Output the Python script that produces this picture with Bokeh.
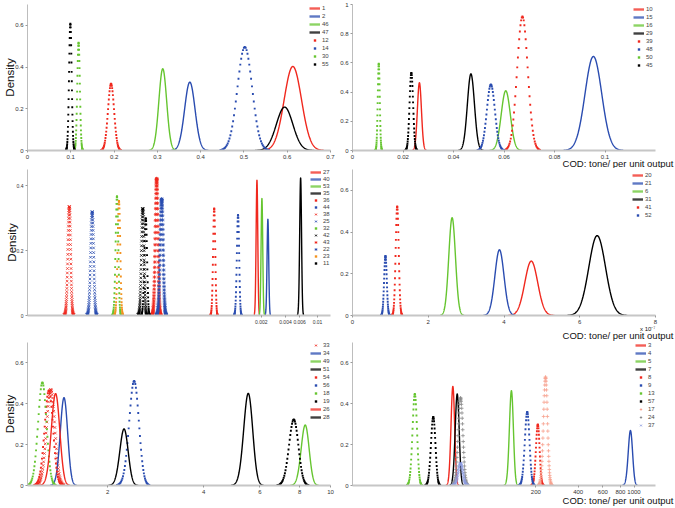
import numpy as np
from bokeh.plotting import figure
from bokeh.layouts import column, row
from bokeh.models import FixedTicker, CustomJSTickFormatter, Range1d, Title
from bokeh.embed import file_html
from bokeh.resources import INLINE

FONT = "Liberation Sans"

# ---------------- data ----------------
# Panel A (top left)
A_names = ["1", "2", "46", "47", "12", "14", "30", "55"]
A_mean = [0.613, 0.375, 0.3125, 0.594, 0.193, 0.502, 0.118, 0.099]
A_sd = [0.020, 0.012, 0.009, 0.019, 0.007, 0.017, 0.003, 0.003]
A_peak = [0.403, 0.328, 0.392, 0.208, 0.32, 0.496, 0.517, 0.608]
A_color = ["red", "blue", "green", "black", "red", "blue", "green", "black"]
A_mark = ["line", "line", "line", "line", "dot", "dot", "dot", "dot"]

# Panel B (top right)
B_names = ["10", "15", "16", "29", "39", "48", "50", "45"]
B_mean = [0.0265, 0.0954, 0.0607, 0.0469, 0.0673, 0.0548, 0.0104, 0.0233]
B_sd = [0.0008, 0.0033, 0.0018, 0.0014, 0.0021, 0.0016, 0.0004, 0.0007]
B_peak = [0.464, 0.644, 0.409, 0.525, 0.918, 0.452, 0.594, 0.532]
B_color = ["red", "blue", "green", "black", "red", "blue", "green", "black"]
B_mark = ["line", "line", "line", "line", "dot", "dot", "dot", "dot"]

# Panel C (middle left, log x)
C_names = ["27", "40", "53", "35", "36", "44", "38", "25", "32", "42", "43", "22", "23", "11"]
C_mean = [1.77e-3, 2.42e-3, 2.04e-3, 6.17e-3, 5.21e-4, 1.03e-3, 8.26e-6, 1.59e-5,
          3.23e-5, 6.76e-5, 1.005e-4, 1.16e-4, 3.42e-5, 7.36e-5]
C_sd = [4.2e-5, 5.7e-5, 4.8e-5, 1.63e-4, 1.63e-5, 3.4e-5, 3.3e-7, 6.8e-7,
        1.22e-6, 2.56e-6, 3.8e-6, 4.9e-6, 1.29e-6, 2.79e-6]
C_peak = [0.417, 0.297, 0.361, 0.424, 0.33, 0.31, 0.336, 0.32,
          0.368, 0.33, 0.422, 0.359, 0.353, 0.30]
C_color = ["red", "blue", "green", "black", "red", "blue", "red", "blue",
           "green", "black", "red", "blue", "orange", "black"]
C_mark = ["line", "line", "line", "line", "dot", "dot", "x", "x",
          "dot", "x", "ast", "ast", "dot", "dot"]

# Panel D (middle right, x 1e-7)
D_names = ["20", "21", "6", "31", "41", "52"]
D_mean = [4.72, 3.88, 2.63, 6.46, 1.18, 0.87]
D_sd = [0.17, 0.12, 0.088, 0.22, 0.04, 0.035]
D_peak = [0.261, 0.315, 0.469, 0.383, 0.523, 0.285]
D_color = ["red", "blue", "green", "black", "red", "blue"]
D_mark = ["line", "line", "line", "line", "dot", "dot"]

# Panel E (bottom left, log x)
E_names = ["33", "34", "49", "51", "54", "56", "18", "19", "26", "28"]
E_mean = [1.325, 1.458, 8.33, 5.52, 1.307, 2.42, 1.247, 7.67, 1.372, 2.25]
E_sd = [0.040, 0.039, 0.24, 0.18, 0.040, 0.085, 0.038, 0.26, 0.042, 0.068]
E_peak = [0.47, 0.43, 0.296, 0.451, 0.465, 0.512, 0.504, 0.323, 0.45, 0.277]
E_color = ["red", "blue", "green", "black", "red", "blue", "green", "black", "red", "black"]
E_mark = ["x", "line", "line", "line", "dot", "dot", "dot", "dot", "line", "line"]

# Panel F (bottom right, log x)
F_names = ["3", "4", "5", "7", "8", "9", "13", "57", "17", "24", "37"]
F_mean = [51.3, 943, 134, 55.1, 206.5, 173.6, 27.5, 37.2, 234.4, 58.2, 58.2]
F_sd = [1.54, 33.5, 4.39, 1.81, 6.2, 6.64, 1.01, 1.36, 7.7, 2.23, 2.23]
F_peak = [0.485, 0.269, 0.464, 0.448, 0.299, 0.36, 0.448, 0.336, 0.531, 0.429, 0.109]
F_color = ["red", "blue", "green", "black", "red", "blue", "green", "black", "pink", "grey", "lblue"]
F_mark = ["line", "line", "line", "line", "dot", "dot", "dot", "dot", "plus", "plus", "x"]

X_LABEL = "COD: tone/ per unit output"
Y_LABEL = "Density"
SCALE_LABEL = "x 10\u207b\u2077"

# ---------------- styles ----------------
COLORS = {"red": "#f0281e", "blue": "#2a4cb0", "green": "#66c530", "black": "#000000",
          "orange": "#f3921f", "pink": "#f7a28f", "grey": "#8a8a8a", "lblue": "#8d9ce0"}
MARKERS = {"dot": "square", "x": "x", "ast": "asterisk", "plus": "cross"}
fmt_code = "return String(Number(tick.toFixed(8)));"
NAN2 = [np.nan, np.nan]


def curve(m, s, pk, n, k):
    xs = np.linspace(m - k * s, m + k * s, n)
    ys = pk * np.exp(-0.5 * ((xs - m) / s) ** 2)
    return xs, ys


def make_fig(w, h, xr, yr, xlog, bl, br, bt, bb, xticks, yticks, tick_fs="6px"):
    p = figure(width=w, height=h, x_range=Range1d(*xr), y_range=Range1d(*yr),
               x_axis_type="log" if xlog else "linear", title=None,
               output_backend="svg", toolbar_location=None,
               min_border_left=bl, min_border_right=br, min_border_top=bt, min_border_bottom=bb)
    p.outline_line_color = None
    p.grid.visible = False
    p.background_fill_color = "white"
    p.xaxis.ticker = FixedTicker(ticks=xticks, minor_ticks=[])
    p.yaxis.ticker = FixedTicker(ticks=yticks, minor_ticks=[])
    for ax in list(p.xaxis) + list(p.yaxis):
        ax.formatter = CustomJSTickFormatter(code=fmt_code)
        ax.major_tick_in = 0
        ax.major_tick_out = 2
        ax.major_tick_line_color = "#9a9a9a"
        ax.minor_tick_line_color = None
        ax.major_label_text_font = FONT
        ax.major_label_text_font_size = tick_fs
        ax.major_label_text_color = "#333333"
        ax.major_label_standoff = 2
    for ax in p.xaxis:
        ax.axis_line_color = "#c6c6c6"
        ax.axis_line_width = 2
    for ax in p.yaxis:
        ax.axis_line_color = "#bdbdbd"
        ax.axis_line_width = 1
    return p


def draw(p, names, means, sds, peaks, colors, marks, nmark=60):
    # legend entries (thicker samples, as in the original legends)
    for nm, c, mk in zip(names, colors, marks):
        col = COLORS[c]
        if mk == "line":
            p.line(NAN2, NAN2, line_color=col, line_width=2.4, line_alpha=0.75, legend_label=nm)
        elif mk == "dot":
            p.scatter(NAN2, NAN2, marker="square", size=2.4, line_color=None, fill_color=col,
                      legend_label=nm)
        else:
            p.scatter(NAN2, NAN2, marker=MARKERS[mk], size=4, line_color=col, fill_color=col,
                      line_width=1, legend_label=nm)
    # curves
    for m, s, pk, c, mk in zip(means, sds, peaks, colors, marks):
        col = COLORS[c]
        if mk == "line":
            x, y = curve(m, s, pk, 220, 3.6)
            p.line(x, y, line_color=col, line_width=1.4)
        elif mk == "dot":
            x, y = curve(m, s, pk, 55, 3.3)
            p.scatter(x, y, marker="square", size=1.9, line_color=None, fill_color=col)
        else:
            x, y = curve(m, s, pk, nmark, 3.3)
            p.scatter(x, y, marker=MARKERS[mk], size=3.6, line_color=col, fill_color=col,
                      line_width=0.8)


def style_legend(p, margin, spacing):
    lg = p.legend[0]
    lg.location = "top_right"
    lg.border_line_alpha = 0
    lg.background_fill_alpha = 0
    lg.label_text_font = FONT
    lg.label_text_font_size = "6px"
    lg.label_height = 6
    lg.label_width = 7
    lg.glyph_height = 6
    lg.glyph_width = 11
    lg.label_standoff = 2
    lg.spacing = spacing
    lg.padding = 0
    lg.margin = margin


def ylabel(p):
    p.yaxis.axis_label = Y_LABEL
    p.yaxis.axis_label_text_font = FONT
    p.yaxis.axis_label_text_font_size = "11.5px"
    p.yaxis.axis_label_text_font_style = "normal"
    p.yaxis.axis_label_text_color = "#111111"
    p.yaxis.axis_label_standoff = -4


def side_title(p, text, side, size, standoff, valign, offset):
    t = Title(text=text, align="right", offset=offset, standoff=standoff,
              vertical_align=valign, text_font=FONT, text_font_size=size,
              text_font_style="normal", text_color="#111111")
    p.add_layout(t, side)


LW, RW = 337, 338

# Row 1  (height 168)
pA = make_fig(LW, 168, (0, 0.7), (0, 0.7), False, 27, 7, 4, 18,
              [0, 0.1, 0.2, 0.3, 0.4, 0.5, 0.6, 0.7], [0, 0.2, 0.4, 0.6])
draw(pA, A_names, A_mean, A_sd, A_peak, A_color, A_mark)
style_legend(pA, 1, 2)
ylabel(pA)

pB = make_fig(RW, 168, (0, 0.12), (0, 1.0), False, 15, 20, 4, 18,
              [0, 0.02, 0.04, 0.06, 0.08, 0.1], [0, 0.2, 0.4, 0.6, 0.8, 1.0])
draw(pB, B_names, B_mean, B_sd, B_peak, B_color, B_mark)
style_legend(pB, 2, 2)
side_title(pB, X_LABEL, "below", "9.5px", -8, "top", -18)

# Row 2  (height 173)
pC = make_fig(LW, 173, (2.5e-6, 0.0145), (0, 0.45), True, 27, 7, 1, 26,
              [0.002, 0.004, 0.006, 0.01], [0, 0.2, 0.4], tick_fs="5px")
draw(pC, C_names, C_mean, C_sd, C_peak, C_color, C_mark, nmark=90)
style_legend(pC, 0, 1)
ylabel(pC)

pD = make_fig(RW, 173, (0, 8), (0, 0.7), False, 15, 20, 1, 26,
              [0, 2, 4, 6, 8], [0, 0.2, 0.4, 0.6])
draw(pD, D_names, D_mean, D_sd, D_peak, D_color, D_mark)
style_legend(pD, 3, 2)
side_title(pD, SCALE_LABEL, "below", "6px", -2, "top", 0)
side_title(pD, X_LABEL, "below", "9.5px", -6, "top", -18)

# Row 3  (height 167)
pE = make_fig(LW, 167, (1.12, 10), (0, 0.7), True, 27, 7, 1, 23,
              [2, 4, 6, 8, 10], [0, 0.2, 0.4, 0.6])
draw(pE, E_names, E_mean, E_sd, E_peak, E_color, E_mark, nmark=70)
style_legend(pE, 0, 2)
ylabel(pE)

pF = make_fig(RW, 167, (9.9, 1422.0), (0, 0.7), True, 15, 20, 1, 23,
              [200, 400, 600, 800, 1000], [0, 0.2, 0.4, 0.6])
draw(pF, F_names, F_mean, F_sd, F_peak, F_color, F_mark, nmark=60)
style_legend(pF, 0, 2)
side_title(pF, X_LABEL, "below", "9.5px", -4, "top", -18)

layout = column(row(pA, pB), row(pC, pD), row(pE, pF))
open("out.html", "w").write(file_html(layout, INLINE))
